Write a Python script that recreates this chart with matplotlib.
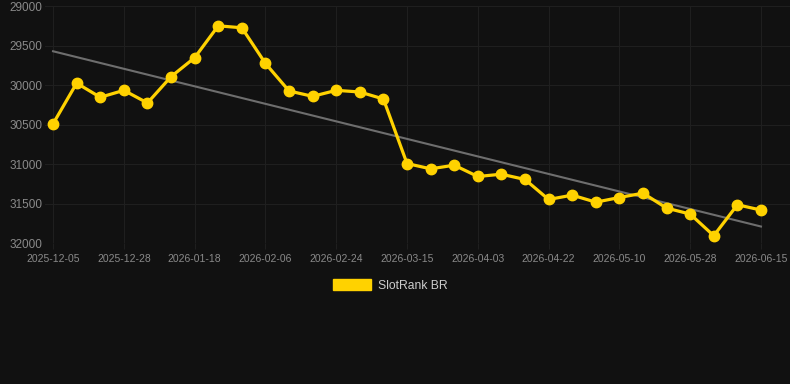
import numpy as np
import matplotlib
matplotlib.use("Agg")
import matplotlib.pyplot as plt
from matplotlib.patches import Patch

plt.rcParams['font.family'] = ['Liberation Sans', 'DejaVu Sans']

# rank values (lower is better, axis inverted)
ranks = [30490, 29975, 30154, 30066, 30226, 29893, 29653, 29249, 29274, 29725,
         30074, 30142, 30066, 30087, 30176, 30993, 31060, 31014, 31157, 31128,
         31195, 31448, 31393, 31482, 31423, 31368, 31557, 31633, 31907, 31515,
         31582]
tick_labels = ['2025-12-05', '2025-12-28', '2026-01-18', '2026-02-06', '2026-02-24',
               '2026-03-15', '2026-04-03', '2026-04-22', '2026-05-10', '2026-05-28',
               '2026-06-15']
y_ticks = [29000, 29500, 30000, 30500, 31000, 31500, 32000]

bg = '#111111'
gold = '#ffd200'

fig = plt.figure(figsize=(7.9, 3.84), dpi=100, facecolor=bg)
ax = fig.add_axes([0.057, 0.367, 0.943, 0.617], facecolor=bg)

x = np.arange(len(ranks))
# linear trend
coef = np.polyfit(x, ranks, 1)
ax.plot(x, np.polyval(coef, x), color='#6e6e6e', linewidth=1.5, zorder=2)

ax.plot(x, ranks, color=gold, linewidth=2.3, marker='o', markersize=7.5,
        markerfacecolor=gold, markeredgecolor=gold, zorder=3)

ax.set_ylim(32000, 29000)
ax.set_xlim(-0.34, 31.23)
ax.set_yticks(y_ticks)
ax.set_yticklabels([str(v) for v in y_ticks])
ax.set_xticks(x[::3])
ax.set_xticklabels(tick_labels)

ax.grid(True, color='#1f1f1f', linewidth=0.8)
ax.set_axisbelow(True)
for s in ax.spines.values():
    s.set_visible(False)
ax.tick_params(axis='y', length=0, pad=2, labelsize=8.5, labelcolor='#8a8a8a')
ax.tick_params(axis='x', length=4, width=0.8, color='#1f1f1f', pad=4,
               labelsize=7.5, labelcolor='#8a8a8a')

leg = fig.legend(handles=[Patch(facecolor=gold, edgecolor=gold, label='SlotRank BR')],
                 loc='center', bbox_to_anchor=(0.494, 0.257), frameon=False,
                 fontsize=8.7, handlelength=3.2, handleheight=1.0, handletextpad=0.55)
for t in leg.get_texts():
    t.set_color('#cccccc')

fig.savefig('out.png', dpi=100, facecolor=bg)
